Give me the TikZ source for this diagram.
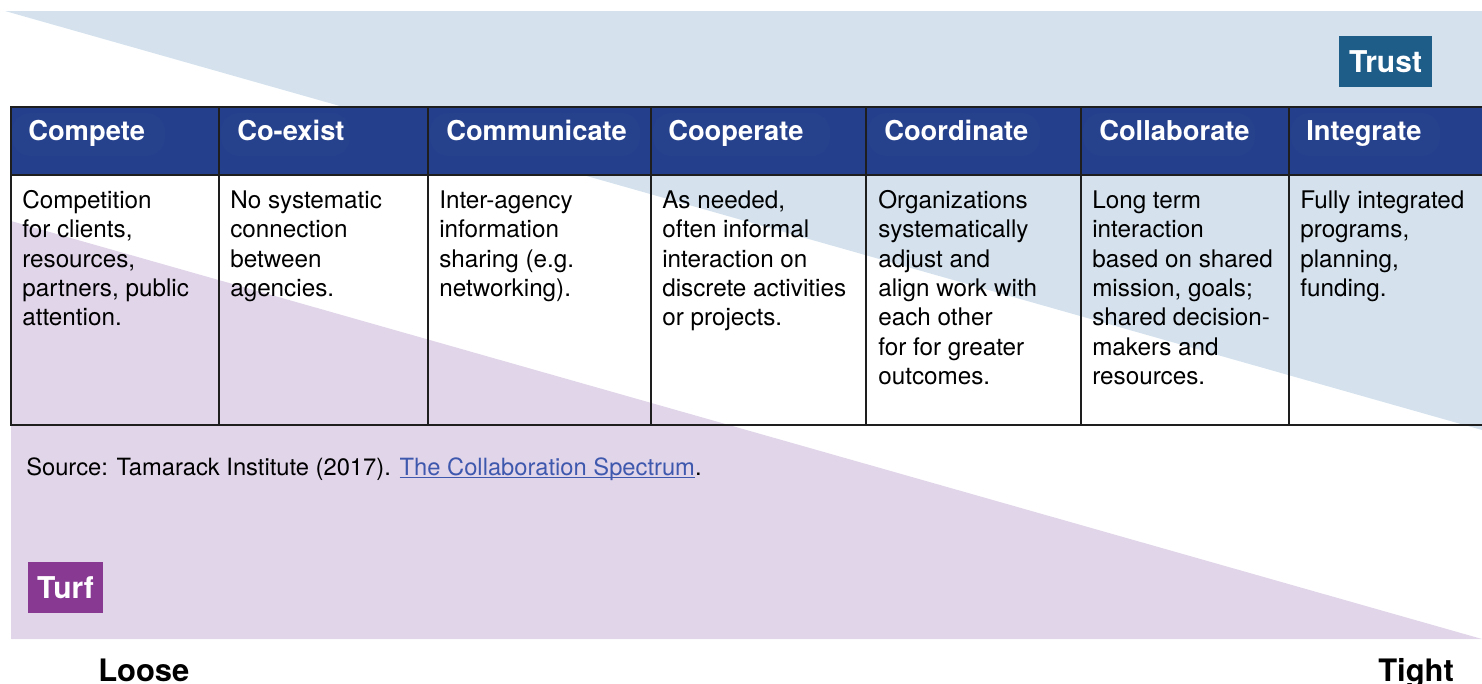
\documentclass[tikz,border=0pt]{standalone}
\usepackage{fontspec}
\setmainfont{TeX Gyre Heros}
\definecolor{bluetri}{HTML}{D5E2EE}
\definecolor{purptri}{HTML}{E1D5E9}
\definecolor{headbg}{HTML}{243F8C}
\definecolor{headglow}{HTML}{29448F}
\definecolor{trustbg}{HTML}{1F5D89}
\definecolor{turfbg}{HTML}{883A93}
\definecolor{linkc}{HTML}{3E58AE}
\definecolor{gridc}{HTML}{1E1E1E}
\newcommand{\linkul}[1]{{\setbox0\hbox{#1}\rlap{\rule[-1.9pt]{\wd0}{0.65pt}}\box0}}
\tikzset{
  headtxt/.style={anchor=base west, inner sep=0pt, text=white, font=\fontsize{20.5}{24}\selectfont\bfseries},
  bodytxt/.style={anchor=base west, inner sep=0pt, align=left, font=\fontsize{18.2}{22.05}\selectfont},
  srctxt/.style={anchor=base west, inner sep=0pt, font=\fontsize{17.8}{22}\selectfont},
  tagbox/.style={inner sep=0pt, text=white, font=\fontsize{22.5}{26}\selectfont\bfseries},
  endtxt/.style={anchor=base west, inner sep=0pt, font=\fontsize{23.2}{27}\selectfont\bfseries},
  gridline/.style={draw=gridc, line width=1.1pt},
  glow/.style={fill=headglow, rounded corners=14pt}
}
\begin{document}
\begin{tikzpicture}[x=0.75pt,y=-0.75pt]
\useasboundingbox (0,0) rectangle (1482,683);
% background triangles
\fill[bluetri] (5,11) -- (1482,11) -- (1482,430) -- cycle;
\fill[purptri] (11,221) -- (11,639) -- (1482,639) -- cycle;
% header band
\fill[headbg] (11,107) rectangle (1490,175);
\foreach \a/\b in {12/165, 221/350, 430/640, 653/830, 868/1040, 1083/1255, 1291/1440}{
  \fill[glow, opacity=0.6] (\a,113) rectangle (\b,156);
}
% grid
\draw[gridline] (1490,107) -- (11,107) -- (11,425) -- (1490,425);
\draw[gridline] (11,175) -- (1490,175);
\foreach \x in {219,428,651,866,1081,1289}{
  \draw[gridline] (\x,107) -- (\x,425);
}
% header texts
\node[headtxt] (h1) at (28,140.7) {Compete};
\node[headtxt] (h2) at (237,140.7) {Co-exist};
\node[headtxt] (h3) at (446,140.7) {Communicate};
\node[headtxt] (h4) at (668,140.7) {Cooperate};
\node[headtxt] (h5) at (884,140.7) {Coordinate};
\node[headtxt] (h6) at (1099,140.7) {Collaborate};
\node[headtxt] (h7) at (1306,140.7) {Integrate};
% body texts (base anchor = last line baseline; first baseline 208.3, step 29.4)
\node[bodytxt] (b1) at (22,325.9) {Competition\\for clients,\\resources,\\partners, public\\attention.};
\node[bodytxt] (b2) at (230,296.5) {No systematic\\connection\\between\\agencies.};
\node[bodytxt] (b3) at (439,296.5) {Inter-agency\\information\\sharing (e.g.\\networking).};
\node[bodytxt] (b4) at (662,325.9) {As needed,\\often informal\\interaction on\\discrete activities\\or projects.};
\node[bodytxt] (b5) at (878,384.7) {Organizations\\systematically\\adjust and\\align work with\\each other\\for for greater\\outcomes.};
\node[bodytxt] (b6) at (1092,384.7) {Long term\\interaction\\based on shared\\mission, goals;\\shared decision-\\makers and\\resources.};
\node[bodytxt] (b7) at (1300,296.5) {Fully integrated\\programs,\\planning,\\funding.};
% source
\node[srctxt] (src) at (26,475) {Source: Tamarack Institute (2017). \textcolor{linkc}{\linkul{The Collaboration Spectrum}}.};
% tags
\node[tagbox, fill=trustbg, minimum width=93*0.75pt, minimum height=51*0.75pt] (trust) at (1385.5,61.5) {Trust};
\node[tagbox, fill=turfbg, minimum width=75*0.75pt, minimum height=51*0.75pt] (turf) at (65.5,587.5) {Turf};
% ends
\node[endtxt] (loose) at (98,681) {Loose};
\node[endtxt] (tight) at (1378,681) {Tight};
\end{tikzpicture}
\end{document}
